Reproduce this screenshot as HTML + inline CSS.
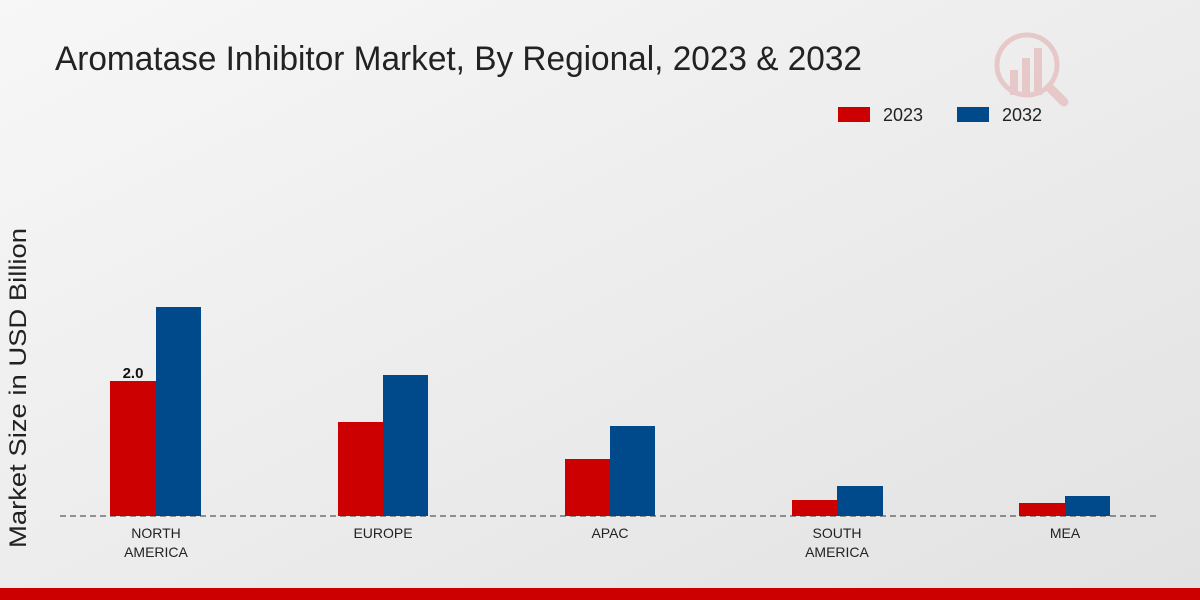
<!DOCTYPE html>
<html><head><meta charset="utf-8"><style>
html,body{margin:0;padding:0;width:1200px;height:600px;overflow:hidden}
svg{display:block;font-family:"Liberation Sans",sans-serif}
</style></head><body>
<svg width="1200" height="600" viewBox="0 0 1200 600">
<defs>
<linearGradient id="bg" x1="0" y1="0" x2="1" y2="1">
<stop offset="0" stop-color="#f7f7f7"/><stop offset="1" stop-color="#e2e2e2"/>
</linearGradient>
</defs>
<rect width="1200" height="600" fill="url(#bg)"/>
<text x="55" y="70" font-size="34" fill="#222" textLength="807" lengthAdjust="spacingAndGlyphs">Aromatase Inhibitor Market, By Regional, 2023 &amp; 2032</text>
<g opacity="0.15" fill="#c00">
<circle cx="1027" cy="65" r="30" fill="none" stroke="#c00" stroke-width="5"/>
<rect x="1010" y="70" width="8" height="25"/><rect x="1022" y="58" width="8" height="37"/><rect x="1034" y="48" width="8" height="47"/>
<line x1="1050" y1="88" x2="1064" y2="102" stroke="#c00" stroke-width="9" stroke-linecap="round"/>
</g>
<rect x="838" y="107" width="32" height="15" fill="#cc0000"/>
<text x="883" y="121" font-size="18" fill="#222">2023</text>
<rect x="957" y="107" width="32" height="15" fill="#004a8c"/>
<text x="1002" y="121" font-size="18" fill="#222">2032</text>
<text transform="translate(26,388) rotate(-90)" text-anchor="middle" font-size="24" fill="#222" textLength="320" lengthAdjust="spacingAndGlyphs">Market Size in USD Billion</text>
<g fill="#cc0000">
<rect x="110" y="381" width="46" height="135"/>
<rect x="338" y="422" width="45" height="94"/>
<rect x="565" y="459" width="45" height="57"/>
<rect x="792" y="500" width="45" height="16"/>
<rect x="1019" y="503" width="46" height="13"/>
</g>
<g fill="#004a8c">
<rect x="156" y="307" width="45" height="209"/>
<rect x="383" y="375" width="45" height="141"/>
<rect x="610" y="426" width="45" height="90"/>
<rect x="837" y="486" width="46" height="30"/>
<rect x="1065" y="496" width="45" height="20"/>
</g>
<line x1="60" y1="516" x2="1160" y2="516" stroke="#333" stroke-width="1" stroke-dasharray="6,4"/>
<text x="133" y="378" text-anchor="middle" font-size="15" font-weight="bold" fill="#111">2.0</text>
<g font-size="14" fill="#222" text-anchor="middle">
<text x="156" y="538">NORTH</text><text x="156" y="557">AMERICA</text>
<text x="383" y="538">EUROPE</text>
<text x="610" y="538">APAC</text>
<text x="837" y="538">SOUTH</text><text x="837" y="557">AMERICA</text>
<text x="1065" y="538">MEA</text>
</g>
<rect x="0" y="588" width="1200" height="12" fill="#cc0000"/>
</svg>
</body></html>
